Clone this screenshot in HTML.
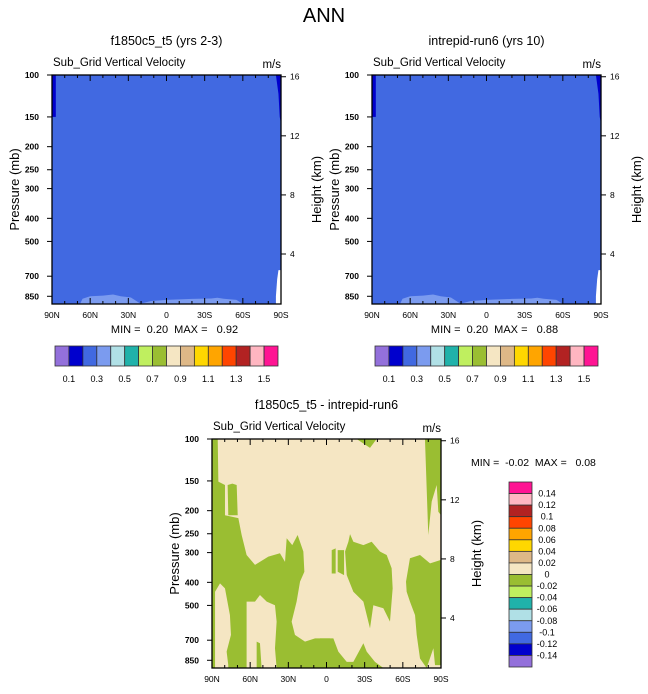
<!DOCTYPE html>
<html><head><meta charset="utf-8"><style>
body{margin:0;background:#fff}
svg{display:block;font-family:"Liberation Sans",sans-serif}
.pre{white-space:pre}
</style></head><body>
<svg id="c" width="648" height="694" xmlns="http://www.w3.org/2000/svg">
<text x="324" y="22" font-size="20" text-anchor="middle">ANN</text>
</svg>
<script>
// ---- data ----
const latTicks=["90N","60N","30N","0","30S","60S","90S"];
const latTickVals=[90,60,30,0,-30,-60,-90];
const presTicks=[100,150,200,250,300,400,500,700,850];
const heightTicks=[16,12,8,4];
const topColors=["#9370DB","#0000CD","#4169E1","#7B9BEF","#B0E0E6","#20B2AA","#BFEF5F","#9ABE32","#F5E6C3","#DEB887","#FFD700","#FFA500","#FF4500","#B22222","#FFB6C1","#FF1493"];
const topLevels=["0.1","0.3","0.5","0.7","0.9","1.1","1.3","1.5"];
const diffLevels=["0.14","0.12","0.1","0.08","0.06","0.04","0.02","0","-0.02","-0.04","-0.06","-0.08","-0.1","-0.12","-0.14"];
const panelTitles=["f1850c5_t5 (yrs 2-3)","intrepid-run6 (yrs 10)","f1850c5_t5 - intrepid-run6"];
const panelMin=["0.20","0.20","-0.02"];
const panelMax=["0.92","0.88","0.08"];
// contour regions for top panels, [lat,pressure]
const darkBlueL=[[90,100],[87,100],[87,150],[90,150]];
const darkBlueR=[[-86,100],[-90,100],[-90,160],[-89,150],[-88,120]];
const lightBump1=[[68,935],[66,870],[60,850],[50,845],[42,835],[36,850],[28,860],[20,930]];
const lightBump2=[[22,935],[12,890],[0,880],[-20,872],[-35,868],[-40,862],[-45,870],[-55,880],[-60,935]];
const whiteCorner=[[-90,660],[-88,660],[-87,720],[-86,850],[-86,935],[-90,935]];
// difference panel green regions (-0.02..0)
const greenRegions=[
 [[90,100],[85.5,100],[85,151],[79.8,156],[79.8,209],[69.3,215],[66.7,253],[62.8,307],[56.2,338],[45.7,312],[36.6,302],[32.6,328],[31.3,261],[26.9,279],[22.7,253],[18.2,297],[17.4,361],[20.8,397],[23.5,482],[27.4,585],[24.8,665],[16.9,710],[9,688],[-2.7,688],[-2.7,935],[90,935]],
 [[77.7,156],[74,154],[70.6,156],[69.8,209],[77.2,209]],
 [[-23.7,100],[-39.4,100],[-34.2,109]],
 [[-77.4,100],[-90,100],[-90,209],[-87.9,202],[-86.6,156],[-82.7,183],[-80,253]],
 [[-17.2,270],[-18.5,251],[-21.1,270],[-29,279],[-35.5,270],[-42,297],[-47.3,307],[-51.2,349],[-52,424],[-49.9,585],[-44.7,514],[-36.8,499],[-34.2,624],[-29,482],[-21.1,438],[-15.9,373],[-14.6,297]],
 [[-4.1,293],[-7.2,288],[-7.2,367],[-4.1,367]],
 [[-8.8,293],[-13.8,293],[-13.8,373],[-8.8,361]],
 [[-62.5,397],[-65.6,317],[-73.5,307],[-81.4,333],[-90,322],[-90,891],[-85.3,891],[-84,757],[-78.7,921],[-73.5,835],[-70.9,665],[-69.6,549],[-65.6,482],[-63,438]],
 [[5.1,688],[-5.4,688],[-9.3,782],[-15.9,863],[-21.1,863],[-29,721],[-31.6,782],[-38.1,863],[-44.7,935],[5.1,935]]
];
// zero-level (cream) regions inside green
const creamRegions=[
 [[87.6,935],[87.6,438],[83.7,404],[79.8,424],[75.9,549],[75.1,665],[78.5,782],[77.2,891],[77.2,935]],
 [[62.8,935],[62.8,482],[56.2,482],[52.3,452],[47,482],[40.5,499],[39.2,585],[40.5,757],[39.2,935],[51,935],[52.3,721],[54.9,710],[54.9,935]]
];
// ---- drawing ----
const svg=document.getElementById('c');
const NS="http://www.w3.org/2000/svg";
function mk(tag,attrs,parent){const e=document.createElementNS(NS,tag);for(const k in attrs)e.setAttribute(k,attrs[k]);(parent||svg).appendChild(e);return e;}
function txt(x,y,s,size,anchor,parent,extra){const t=mk('text',Object.assign({x:x,y:y,'font-size':size,'text-anchor':anchor||'start'},extra||{}),parent);t.textContent=s;return t;}
const W=229,H=229,K=103.4,PB=100*Math.exp(H/K);
function panel(idx,x0,y0){
 const g=mk('g',{});
 
 
 const X=lat=>x0+(90-lat)/180*W;
 const Y=p=>y0+K*Math.log(Math.min(p,PB)/100);
 const poly=(pts,fill,name)=>{const e=mk('polygon',{points:pts.map(q=>X(q[0])+','+Y(q[1])).join(' '),fill:fill},g);
   };
 const bg=mk('rect',{x:x0,y:y0,width:W,height:H,fill:idx<2?"#4169E1":"#F5E6C3"},g);
 
 if(idx<2){poly(darkBlueL,"#0000CD","dark-blue-region");poly(darkBlueR,"#0000CD","dark-blue-region");
   poly(lightBump1,"#7B9BEF","light-blue-region");poly(lightBump2,"#7B9BEF","light-blue-region");poly(whiteCorner,"#ffffff","missing-region");}
 else {greenRegions.forEach(r=>poly(r,"#9ABE32","green-region"));creamRegions.forEach(r=>poly(r,"#F5E6C3","cream-region"));}
 const fr=mk('rect',{x:x0,y:y0,width:W,height:H,fill:'none',stroke:'#000','stroke-width':1.3},g);
 
 presTicks.forEach(p=>{const y=Y(p);mk('line',{x1:x0-5,x2:x0,y1:y,y2:y,stroke:'#000'},g);
   const t=txt(x0-13,y+3,String(p),8.5,'end',g,{'font-weight':'bold'});});
 heightTicks.forEach(h=>{const p=1000*Math.exp(-h/7);const y=Y(p);mk('line',{x1:x0+W,x2:x0+W+5,y1:y,y2:y,stroke:'#000'},g);
   const t=txt(x0+W+9,y+3,String(h),8.5,'start',g);});
 for(let l=90;l>=-90;l-=10){const x=X(l);const L=(l%30===0)?6:3;
   mk('line',{x1:x,x2:x,y1:y0+H,y2:y0+H-L,stroke:'#000'},g);mk('line',{x1:x,x2:x,y1:y0,y2:y0+L,stroke:'#000'},g);}
 latTickVals.forEach((l,i)=>{const t=txt(X(l),y0+H+14,latTicks[i],8.5,'middle',g);});
 let t=txt(x0+W/2,y0-30,panelTitles[idx],12.5,'middle',g);
 t=txt(x0+1,y0-9,"Sub_Grid Vertical Velocity",11.5,'start',g);
 t=txt(x0+W,y0-7,"m/s",11.5,'end',g);
 t=txt(x0-33,y0+H/2,"Pressure (mb)",13,'middle',g,{transform:`rotate(-90 ${x0-33} ${y0+H/2})`});
 t=txt(x0+W+40,y0+H/2,"Height (km)",13,'middle',g,{transform:`rotate(-90 ${x0+W+40} ${y0+H/2})`});
 const mm="MIN =  "+panelMin[idx]+"  MAX =   "+panelMax[idx];
 if(idx<2){t=txt(x0+W/2+8,y0+H+29,mm,11,'middle',g,{'class':'pre'});}else{t=txt(x0+W+30,y0+27,mm,10.5,'start',g,{'class':'pre'});}
 
}
panel(0,52,75);panel(1,372,75);panel(2,212,439);
[55,375].forEach((cx,j)=>{
 const g=mk('g',{});
 const bw=223/topColors.length;
 topColors.forEach((c,i)=>{const r=mk('rect',{x:cx+i*bw,y:346,width:bw,height:20,fill:c,stroke:'#333','stroke-width':0.8},g);
   });
 topLevels.forEach((s,i)=>{const t=txt(cx+(2*i+1)*bw,382,s,9,'middle',g);});
});
{const g=mk('g',{});
 const bh=(667-482)/topColors.length;const rev=topColors.slice().reverse();
 rev.forEach((c,i)=>{const r=mk('rect',{x:509,y:482+i*bh,width:23,height:bh,fill:c,stroke:'#333','stroke-width':0.8},g);
   });
 diffLevels.forEach((s,i)=>{const t=txt(547,482+(i+1)*bh+3,s,9,'middle',g);});
}
</script>
</body></html>
